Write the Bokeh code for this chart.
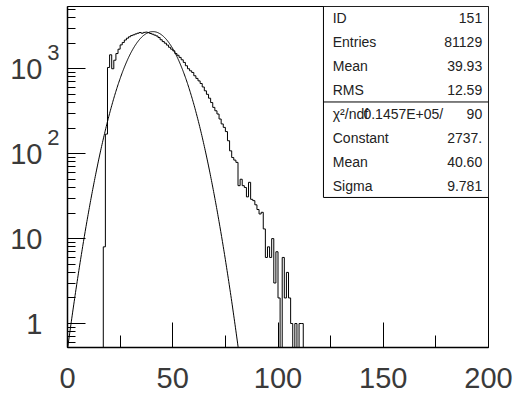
import numpy as np
from bokeh.plotting import figure
from bokeh.models import FixedTicker, LogAxis, Range1d
from bokeh.embed import file_html
from bokeh.resources import INLINE
from bokeh.core.properties import value

# ---------------- data ----------------
bin_start = 17          # left edge of first non-empty bin
bin_width = 1
counts = [8, 170, 1035, 1460, 1000, 1260, 1510, 1700, 1910, 2040,      # 17-26
          2180, 2290, 2380, 2460, 2510, 2570, 2620, 2670, 2620, 2680,  # 27-36
          2700, 2660, 2600, 2550, 2490, 2430, 2330, 2195, 2090, 2000,  # 37-46
          1900, 1790, 1700, 1625, 1510, 1440, 1360, 1275, 1187, 1085,  # 47-56
          1000, 946, 904, 827, 770, 720, 670, 610, 550, 500,           # 57-66
          450, 400, 351, 320, 293, 256, 224, 204, 182, 142,            # 67-76
          108, 90, 84, 79, 42, 50, 42, 40, 31, 46,                     # 77-86
          29, 28, 25, 22, 19.5, 20.4, 13, 6, 8, 6,                     # 87-96
          10, 3, 7, 2, 0, 6, 2, 4, 2, 1,                               # 97-106
          0, 1, 0, 1, 1]                                               # 107-111

fit_constant = 2737.0
fit_mean = 40.60
fit_sigma = 9.781

stat_names = ["ID", "Entries", "Mean", "RMS"]
stat_values = ["151", "81129", "39.93", "12.59"]
fit_names = ["\u03c7\u00b2/ndf", "Constant", "Mean", "Sigma"]
fit_values = ["90", "2737.", "40.60", "9.781"]
chi2_text = "0.1457E+05/"

xticks = [0, 50, 100, 150, 200]
xminor = [25, 75, 125, 175]
yticks = [1, 10, 100, 1000]
ytick_base = ["1", "10", "10", "10"]
ytick_exp = ["", "", "2", "3"]

# ---------------- figure ----------------
y_lo, y_hi = 0.522, 5408.0
p = figure(width=531, height=401, x_range=Range1d(0, 200), y_range=Range1d(y_lo, y_hi),
           y_axis_type="log", output_backend="svg", toolbar_location=None,
           min_border_left=67, min_border_right=43, min_border_top=6, min_border_bottom=54)
p.grid.visible = False
p.outline_line_color = "black"
p.outline_line_width = 1

FONT = "Liberation Sans"
TXT = "#3a3a3a"

ax = p.xaxis[0]
ax.ticker = FixedTicker(ticks=xticks, minor_ticks=xminor)
ax.major_tick_in = 25
ax.major_tick_out = 0
ax.minor_tick_in = 12
ax.minor_tick_out = 0
ax.axis_line_width = 1.5
ax.major_label_text_font = FONT
ax.major_label_text_font_size = "29px"
ax.major_label_text_color = TXT
ax.major_label_standoff = 20

# main y axis: line and ticks only (labels drawn by the extra axes)
ay = p.yaxis[0]
yminor = [m * 10.0 ** e for e in range(-1, 4) for m in range(2, 10)]
ay.ticker = FixedTicker(ticks=yticks, minor_ticks=yminor)
ay.major_tick_in = 18
ay.major_tick_out = 0
ay.minor_tick_in = 8
ay.minor_tick_out = 0
ay.axis_line_width = 1.5
ay.major_label_overrides = {t: "" for t in yticks}
ay.major_label_standoff = 0

# exponent labels (inner), raised above their decade ticks
raise_px = 16
decade_px = 341 / (np.log10(y_hi) - np.log10(y_lo))
exp_ticks = [int(round(t * 10 ** (raise_px / decade_px))) for t, e in zip(yticks, ytick_exp) if e]
exp_labels = [e for e in ytick_exp if e]
a_exp = LogAxis(ticker=FixedTicker(ticks=exp_ticks, minor_ticks=[]),
                major_label_overrides={t: s for t, s in zip(exp_ticks, exp_labels)},
                axis_line_color=None, major_tick_line_color=None, minor_tick_line_color=None,
                major_tick_in=0, major_tick_out=0, minor_tick_in=0, minor_tick_out=0,
                major_label_text_font=FONT, major_label_text_font_size="22px",
                major_label_text_color=TXT, major_label_standoff=8)
p.add_layout(a_exp, "left")

# base labels (outer)
a_base = LogAxis(ticker=FixedTicker(ticks=yticks, minor_ticks=[]),
                 major_label_overrides={t: b for t, b in zip(yticks, ytick_base)},
                 axis_line_color=None, major_tick_line_color=None, minor_tick_line_color=None,
                 major_tick_in=0, major_tick_out=0, minor_tick_in=0, minor_tick_out=0,
                 major_label_text_font=FONT, major_label_text_font_size="29px",
                 major_label_text_color=TXT, major_label_standoff=2)
p.add_layout(a_base, "left")

# ---------------- histogram ----------------
floor = 1e-3
c = np.array(counts, dtype=float)
c_plot = np.where(c > 0, c, floor)
lefts = bin_start + bin_width * np.arange(len(c))
xs = np.concatenate([[bin_start - bin_width], lefts, [lefts[-1] + bin_width]])
ys = np.concatenate([[floor], c_plot, [floor]])
p.step(x=xs, y=ys, mode="after", line_color="black", line_width=1)

# ---------------- gaussian fit ----------------
xg = np.linspace(0, 200, 1001)
yg = fit_constant * np.exp(-0.5 * ((xg - fit_mean) / fit_sigma) ** 2)
yg = np.maximum(yg, 1e-6)
p.line(xg, yg, line_color="black", line_width=1)

# ---------------- stats box ----------------
llo, lhi = np.log10(y_lo), np.log10(y_hi)
def yfrac(f):
    return 10 ** (llo + f * (lhi - llo))

box_left, box_right = 121.6, 200.0
box_bot_f = 0.44
nrows = len(stat_names) + len(fit_names)
row_h = (1.0 - box_bot_f) / nrows
p.quad(left=box_left, right=box_right, top=yfrac(1.0), bottom=yfrac(box_bot_f),
       fill_color="white", line_color="black", line_width=1)
sep_f = 1.0 - len(stat_names) * row_h
p.segment(x0=box_left, x1=box_right, y0=yfrac(sep_f), y1=yfrac(sep_f),
          line_color="black", line_width=1)

names = stat_names + fit_names
vals = stat_values + fit_values
row_y = [yfrac(1.0 - (i + 0.5) * row_h) for i in range(nrows)]
p.text(x=[126.0] * nrows, y=row_y, text=names, text_font=value(FONT),
       text_font_size="14px", text_color="#222222", text_align="left",
       text_baseline="middle")
p.text(x=[197.0] * nrows, y=row_y, text=vals, text_font=value(FONT),
       text_font_size="14px", text_color="#222222", text_align="right",
       text_baseline="middle")
p.text(x=[178.5], y=[row_y[len(stat_names)]], text=[chi2_text], text_font=value(FONT),
       text_font_size="14px", text_color="#222222", text_align="right",
       text_baseline="middle")

open("out.html", "w").write(file_html(p, INLINE))
